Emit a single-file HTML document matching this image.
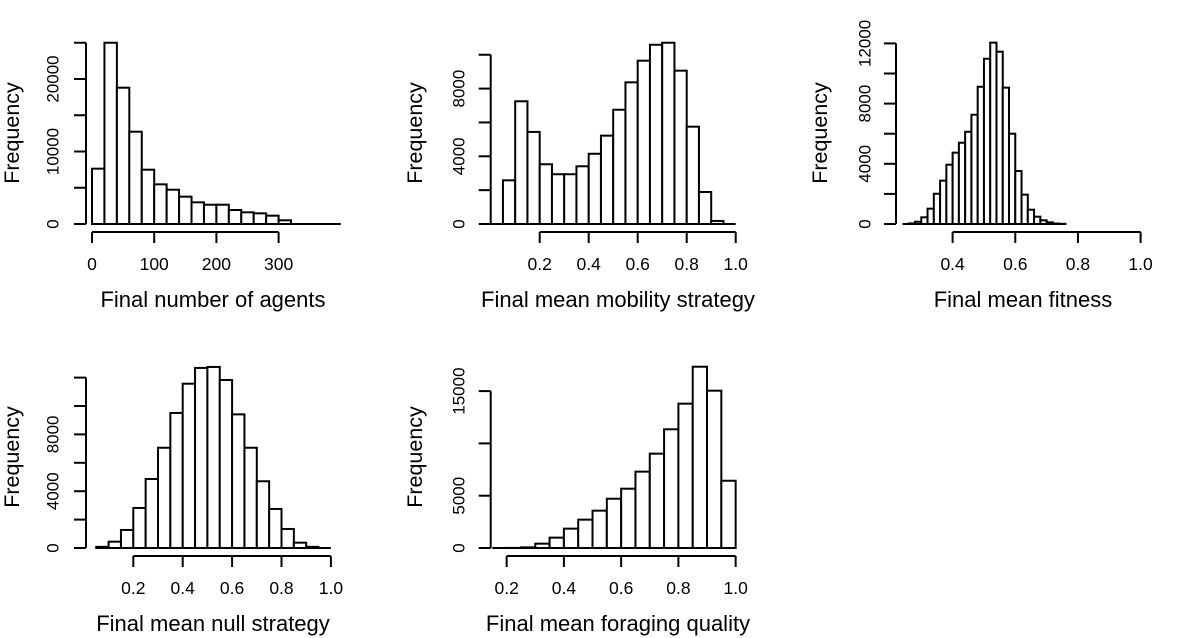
<!DOCTYPE html>
<html><head><meta charset="utf-8">
<style>
html,body{margin:0;padding:0;background:#fff;}
svg{display:block;font-family:"Liberation Sans",Arial,sans-serif;}
</style></head>
<body>
<svg id="chart" width="1186" height="638" viewBox="0 0 1186 638" xmlns="http://www.w3.org/2000/svg"></svg>
<script>
// Panel 1: Final number of agents
const agentsBinStart = 0, agentsBinWidth = 20;
const agentsCounts = [7630,25000,18800,12730,7490,5470,4730,3770,2990,2660,2660,1930,1610,1470,1150,510,0,0,0,0];
const agentsXTicks = [0,100,200,300];
const agentsYTicks = [0,5000,10000,15000,20000,25000];
const agentsYLabels = [0,10000,20000];
// Panel 2: Final mean mobility strategy
const mobilityBinStart = 0, mobilityBinWidth = 0.05;
const mobilityCounts = [0,2580,7250,5440,3530,2940,2940,3410,4150,5220,6750,8370,9650,10590,10710,9060,5750,1890,180,0];
const mobilityXTicks = [0.2,0.4,0.6,0.8,1.0];
const mobilityYTicks = [0,2000,4000,6000,8000,10000];
const mobilityYLabels = [0,4000,8000];
// Panel 3: Final mean fitness
const fitnessBinStart = 0.24, fitnessBinWidth = 0.02;
const fitnessCounts = [0,40,150,445,1020,2010,2880,3940,4740,5400,6130,7260,9120,10980,12050,11450,9060,6000,3520,1950,950,485,245,110,30,10];
const fitnessXTicks = [0.4,0.6,0.8,1.0];
const fitnessYTicks = [0,2000,4000,6000,8000,10000,12000];
const fitnessYLabels = [0,4000,8000,12000];
// Panel 4: Final mean null strategy
const nullBinStart = 0.05, nullBinWidth = 0.05;
const nullCounts = [80,445,1270,2820,4860,7060,9510,11570,12680,12750,11830,9410,7060,4700,2750,1340,375,80,0];
const nullXTicks = [0.2,0.4,0.6,0.8,1.0];
const nullYTicks = [0,2000,4000,6000,8000,10000,12000];
const nullYLabels = [0,4000,8000];
// Panel 5: Final mean foraging quality
const foragingBinStart = 0.15, foragingBinWidth = 0.05;
const foragingCounts = [0,10,60,415,990,1850,2710,3570,4710,5670,7300,9020,11350,13800,17330,15040,6430];
const foragingXTicks = [0.2,0.4,0.6,0.8,1.0];
const foragingYTicks = [0,5000,10000,15000];
const foragingYLabels = [0,5000,15000];

const svg = document.getElementById('chart');
const NS = 'http://www.w3.org/2000/svg';
function mk(tag, attrs, parent){
  const e = document.createElementNS(NS, tag);
  for (const k in attrs) e.setAttribute(k, attrs[k]);
  parent.appendChild(e);
  return e;
}
function fmt(v, dec){ return dec ? v.toFixed(1) : String(v); }

function panel(p){
  const g = mk('g', {}, svg);
  
  
  const xs = v => p.x0 + (v - p.xv0) * p.xk;
  const ys = v => p.base - v * p.yk;
  const st = {stroke:'#000','stroke-width':2,fill:'none'};
  // baseline across all bins
  const bl = mk('line', Object.assign({x1:xs(p.binStart), x2:xs(p.binStart + p.counts.length*p.binW), y1:p.base, y2:p.base}, st), g);
  
  
  // bars
  p.counts.forEach((c,i)=>{
    const a = xs(p.binStart + i*p.binW), b = xs(p.binStart + (i+1)*p.binW);
    const r = mk('rect', {x:a, y:ys(c), width:b-a, height:Math.max(0,p.base-ys(c)), fill:'#fff', stroke:'#000','stroke-width':2}, g);
    
    
  });
  // y axis
  const yt = p.yTicks;
  const ya = mk('line', Object.assign({x1:p.yAxisX, x2:p.yAxisX, y1:ys(yt[0]), y2:ys(yt[yt.length-1])}, st), g);
  
  
  yt.forEach(v=>{
    mk('line', Object.assign({x1:p.yAxisX-12, x2:p.yAxisX, y1:ys(v), y2:ys(v)}, st), g);
  });
  p.yLabels.forEach(v=>{
    const t = mk('text', {x:0, y:0, transform:`translate(${p.yLabX},${ys(v)}) rotate(-90)`, 'text-anchor':'middle', 'dominant-baseline':'central', 'font-size':17}, g);
    
    
    t.textContent = v;
  });
  // x axis
  const xt = p.xTicks, axY = p.base + 8;
  const xa = mk('line', Object.assign({x1:xs(xt[0]), x2:xs(xt[xt.length-1]), y1:axY, y2:axY}, st), g);
  
  
  xt.forEach(v=>{
    mk('line', Object.assign({x1:xs(v), x2:xs(v), y1:axY, y2:axY+11}, st), g);
    const t = mk('text', {x:xs(v), y:axY+38, 'text-anchor':'middle', 'font-size':17.5}, g);
    
    
    t.textContent = fmt(v, p.dec);
  });
  // titles
  const xl = mk('text', {x:p.xTitleX, y:p.base+83, 'text-anchor':'middle', 'font-size':22}, g);
  
  
  xl.textContent = p.xTitle;
  const yl = mk('text', {x:0, y:0, transform:`translate(${p.yTitleX},${p.yTitleY}) rotate(-90)`, 'text-anchor':'middle', 'dominant-baseline':'central', 'font-size':21.5}, g);
  
  
  yl.textContent = 'Frequency';
}

panel({name:'panel-agents', counts:agentsCounts, binStart:agentsBinStart, binW:agentsBinWidth,
  xTicks:agentsXTicks, yTicks:agentsYTicks, yLabels:agentsYLabels, dec:false,
  x0:92, xv0:0, xk:0.622, base:224, yk:72.5/10000, yAxisX:86, yLabX:53,
  xTitle:'Final number of agents', xTitleX:213, yTitleX:12, yTitleY:133});
panel({name:'panel-mobility', counts:mobilityCounts, binStart:mobilityBinStart, binW:mobilityBinWidth,
  xTicks:mobilityXTicks, yTicks:mobilityYTicks, yLabels:mobilityYLabels, dec:true,
  x0:490.7, xv0:0, xk:245, base:224, yk:67.7/4000, yAxisX:490.7, yLabX:459,
  xTitle:'Final mean mobility strategy', xTitleX:618, yTitleX:415, yTitleY:133});
panel({name:'panel-fitness', counts:fitnessCounts, binStart:fitnessBinStart, binW:fitnessBinWidth,
  xTicks:fitnessXTicks, yTicks:fitnessYTicks, yLabels:fitnessYLabels, dec:true,
  x0:827.3, xv0:0, xk:313.3, base:224, yk:60.2/4000, yAxisX:896, yLabX:865,
  xTitle:'Final mean fitness', xTitleX:1023, yTitleX:820, yTitleY:133});
panel({name:'panel-null', counts:nullCounts, binStart:nullBinStart, binW:nullBinWidth,
  xTicks:nullXTicks, yTicks:nullYTicks, yLabels:nullYLabels, dec:true,
  x0:83.9, xv0:0, xk:247, base:548, yk:56.8/4000, yAxisX:86, yLabX:53,
  xTitle:'Final mean null strategy', xTitleX:213, yTitleX:12, yTitleY:457});
panel({name:'panel-foraging', counts:foragingCounts, binStart:foragingBinStart, binW:foragingBinWidth,
  xTicks:foragingXTicks, yTicks:foragingYTicks, yLabels:foragingYLabels, dec:true,
  x0:449.4, xv0:0, xk:286.25, base:548, yk:52.3/5000, yAxisX:490.7, yLabX:459,
  xTitle:'Final mean foraging quality', xTitleX:618, yTitleX:415, yTitleY:457});
</script>
</body></html>
